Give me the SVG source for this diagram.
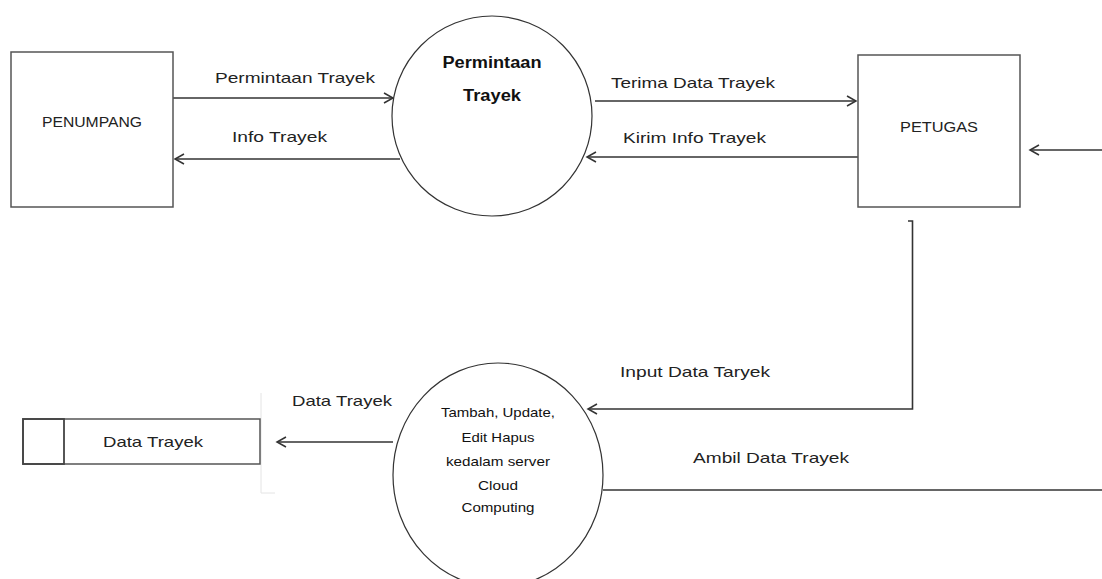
<svg xmlns="http://www.w3.org/2000/svg" width="1102" height="579" viewBox="0 0 1102 579">
<defs>
<marker id="arr" markerWidth="12" markerHeight="12" refX="10" refY="6" orient="auto" markerUnits="userSpaceOnUse">
<path d="M1,1 L10,6 L1,11" fill="none" stroke="#333" stroke-width="1.5"/>
</marker>
<style>
.box{fill:#fff;stroke:#555;stroke-width:1.5}
.proc{fill:#fff;stroke:#333;stroke-width:1.2}
.ln{fill:none;stroke:#333;stroke-width:1.6}
.t{font-family:"Liberation Sans",Arial,sans-serif;font-size:15px;fill:#222}
.tb{font-family:"Liberation Sans",Arial,sans-serif;font-size:16px;font-weight:bold;fill:#111;text-anchor:middle}
.ts{font-family:"Liberation Sans",Arial,sans-serif;font-size:13px;fill:#111;text-anchor:middle}
</style>
</defs>
<rect width="1102" height="579" fill="#fff"/>

<g id="connectors">
<line class="ln" x1="173" y1="98" x2="393" y2="98" marker-end="url(#arr)"/>
<line class="ln" x1="400" y1="159" x2="175" y2="159" marker-end="url(#arr)"/>
<line class="ln" x1="595" y1="101" x2="856" y2="101" marker-end="url(#arr)"/>
<line class="ln" x1="858" y1="157" x2="587" y2="157" marker-end="url(#arr)"/>
<line class="ln" x1="1102" y1="150" x2="1030" y2="150" marker-end="url(#arr)"/>
<polyline class="ln" points="908,221 912.5,221 912.5,409 588,409" marker-end="url(#arr)"/>
<line class="ln" x1="393" y1="442" x2="277" y2="442" marker-end="url(#arr)"/>
<line class="ln" x1="603" y1="490" x2="1102" y2="490"/>
<text class="t" x="215" y="83" textLength="160" lengthAdjust="spacingAndGlyphs">Permintaan Trayek</text>
<text class="t" x="232" y="142" textLength="95" lengthAdjust="spacingAndGlyphs">Info Trayek</text>
<text class="t" x="611" y="88" textLength="164" lengthAdjust="spacingAndGlyphs">Terima Data Trayek</text>
<text class="t" x="623" y="143" textLength="143" lengthAdjust="spacingAndGlyphs">Kirim Info Trayek</text>
<text class="t" x="620" y="377" textLength="150" lengthAdjust="spacingAndGlyphs">Input Data Taryek</text>
<text class="t" x="693" y="463" textLength="156" lengthAdjust="spacingAndGlyphs">Ambil Data Trayek</text>
<text class="t" x="292" y="406" textLength="100" lengthAdjust="spacingAndGlyphs">Data Trayek</text>
</g>

<g id="penumpang">
<rect class="box" x="11" y="52" width="162" height="155"/>
<text class="t" x="42" y="127" textLength="100" lengthAdjust="spacingAndGlyphs" style="font-size:14px">PENUMPANG</text>
</g>

<g id="permintaan-trayek">
<circle class="proc" cx="492" cy="116" r="100"/>
<text class="tb" x="492" y="68" textLength="99" lengthAdjust="spacingAndGlyphs">Permintaan</text>
<text class="tb" x="492" y="101" textLength="58" lengthAdjust="spacingAndGlyphs">Trayek</text>
</g>

<g id="petugas">
<rect class="box" x="858" y="55" width="162" height="152"/>
<text class="t" x="900" y="132" textLength="78" lengthAdjust="spacingAndGlyphs" style="font-size:14px">PETUGAS</text>
</g>

<g id="proses-cloud">
<ellipse class="proc" cx="498" cy="475" rx="105" ry="112"/>
<text class="ts" x="498" y="417" textLength="114" lengthAdjust="spacingAndGlyphs">Tambah, Update,</text>
<text class="ts" x="498" y="442" textLength="73" lengthAdjust="spacingAndGlyphs">Edit Hapus</text>
<text class="ts" x="498" y="466" textLength="104" lengthAdjust="spacingAndGlyphs">kedalam server</text>
<text class="ts" x="498" y="490" textLength="40" lengthAdjust="spacingAndGlyphs">Cloud</text>
<text class="ts" x="498" y="512" textLength="73" lengthAdjust="spacingAndGlyphs">Computing</text>
</g>

<g id="data-trayek-store">
<line x1="261" y1="393" x2="261" y2="493" stroke="#e4e4e4" stroke-width="1"/>
<line x1="261" y1="493" x2="275" y2="493" stroke="#e4e4e4" stroke-width="1"/>
<rect class="box" x="23" y="419" width="237" height="45"/>
<rect x="23" y="419" width="41" height="45" fill="none" stroke="#444" stroke-width="1.8"/>
<text class="t" x="103" y="447" textLength="100" lengthAdjust="spacingAndGlyphs">Data Trayek</text>
</g>
</svg>
